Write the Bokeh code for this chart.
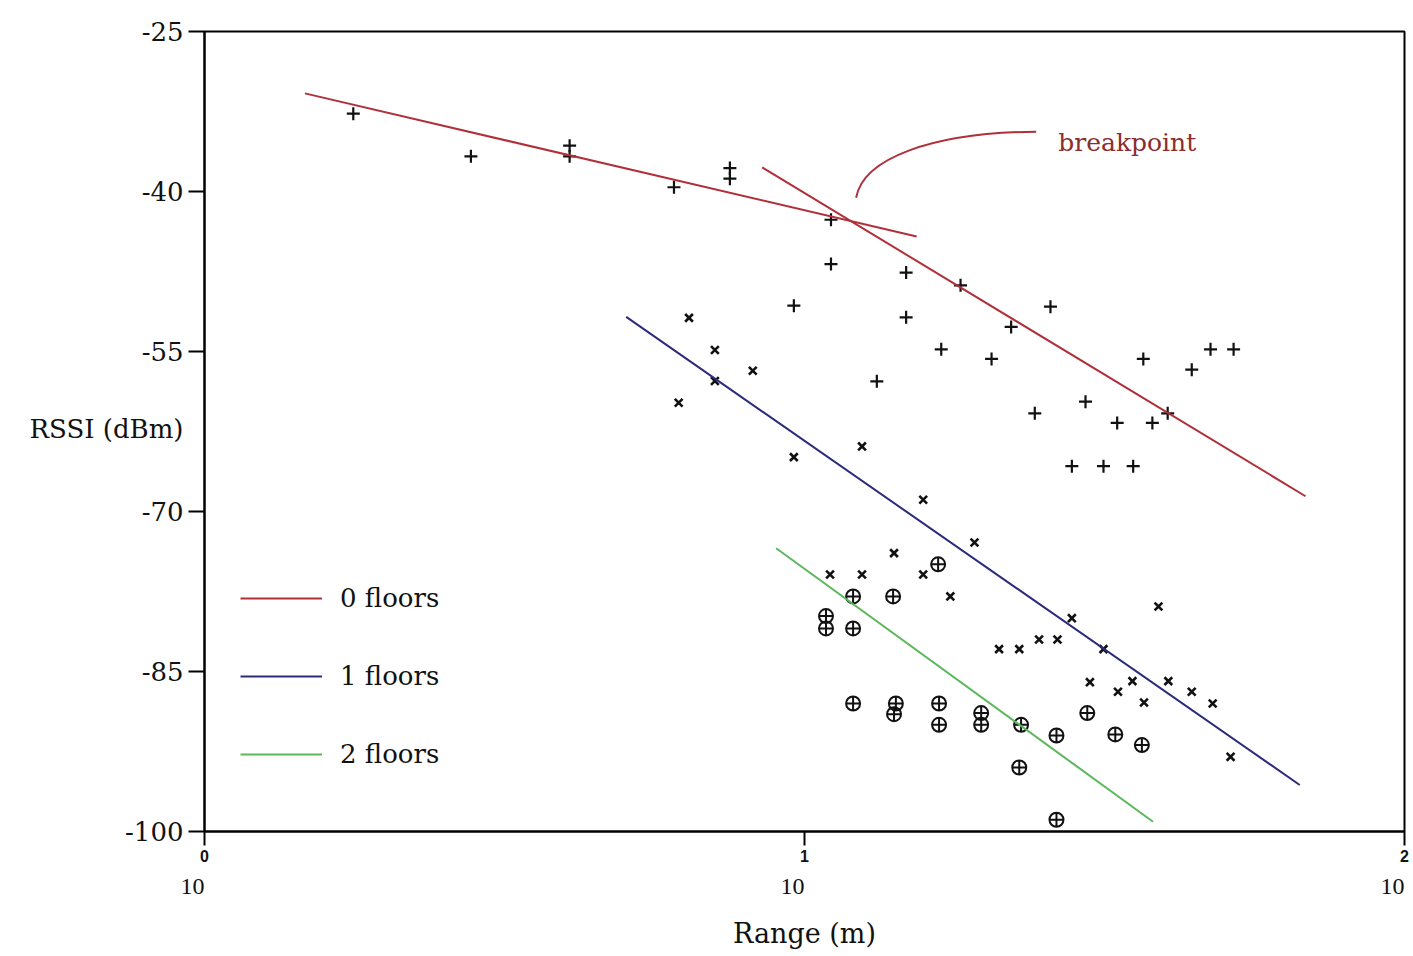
from bokeh.plotting import figure
from bokeh.models import Range1d, FixedTicker, Label, Legend, LegendItem, LinearAxis
from bokeh.embed import file_html
from bokeh.resources import INLINE

# ---------------- data ----------------
# 0 floors  (+)
floor0_range = [1.77, 2.78, 4.06, 4.06, 6.06, 7.51, 7.51, 11.07, 11.07, 14.77,
                14.77, 18.2, 9.6, 13.2, 16.9, 20.5, 22.1, 25.7, 24.2, 29.4,
                27.9, 31.5, 35.3, 33.2, 38.0, 36.7, 40.3, 44.2, 47.5, 51.9]
floor0_rssi = [-32.7, -36.7, -35.7, -36.7, -39.6, -37.8, -38.8, -42.65, -46.8, -47.6,
               -51.8, -48.8, -50.7, -57.8, -54.8, -55.7, -52.7, -50.8, -60.8, -59.7,
               -65.75, -65.75, -65.75, -61.7, -61.7, -55.7, -60.8, -56.7, -54.8, -54.8]

# 1 floor  (x)
floor1_range = [6.42, 7.09, 7.09, 8.2, 6.17, 9.6, 12.47, 15.77, 19.2, 11.03,
                12.47, 14.1, 15.77, 17.5, 38.9, 27.9, 21.1, 22.8, 24.6, 26.4,
                31.5, 29.9, 33.3, 35.2, 36.8, 40.4, 44.2, 47.9, 51.3]
floor1_rssi = [-51.85, -54.86, -57.77, -56.8, -59.8, -64.9, -63.9, -68.9, -72.9, -75.9,
               -75.9, -73.9, -75.9, -77.96, -78.9, -80.0, -82.9, -82.9, -82.0, -82.0,
               -82.9, -86.0, -86.9, -85.9, -87.9, -85.9, -86.9, -88.0, -93.0]

# 2 floors  (circle-cross)
floor2_range = [16.7, 12.05, 14.05, 10.86, 10.86, 12.05, 12.05, 14.2, 14.1, 16.76,
                16.76, 19.7, 19.7, 22.96, 26.3, 22.8, 26.3, 29.6, 32.96, 36.5]
floor2_rssi = [-74.95, -77.96, -77.96, -79.8, -80.96, -80.96, -88.0, -88.0, -89.0, -88.0,
               -90.0, -88.9, -90.0, -90.0, -91.0, -94.0, -98.9, -88.9, -90.9, -91.9]

# fitted lines
fit0a_range = [1.47, 15.38]
fit0a_rssi = [-30.8, -44.22]
fit0b_range = [8.50, 68.4]
fit0b_rssi = [-37.74, -68.57]
fit1_range = [5.045, 66.9]
fit1_rssi = [-51.76, -95.64]
fit2_range = [8.97, 38.1]
fit2_rssi = [-73.45, -99.08]

# breakpoint pointer curve (start, control 1, control 2, end)
curve_range = [12.19, 12.52, 16.26, 24.33]
curve_rssi = [-40.59, -36.92, -34.48, -34.39]

legend_labels = ["0 floors", "1 floors", "2 floors"]
x_ticks = [1, 10, 100]
x_tick_exponents = ["0", "1", "2"]
x_tick_base = "10"
y_ticks = [-100, -85, -70, -55, -40, -25]
y_tick_labels = ["-100", "-85", "-70", "-55", "-40", "-25"]
y_title = "RSSI (dBm)"
y_title_at = -62.25
x_title = "Range (m)"

RED = "#b0303a"
BLUE = "#2b2b7a"
GREEN = "#5cb85c"
BREAK_COLOR = "#8b2e2e"
INK = "#111111"

# ---------------- figure ----------------
p = figure(width=1413, height=956, x_axis_type="log", x_axis_location=None,
           x_range=Range1d(1, 100), y_range=Range1d(-100, -25),
           output_backend="svg", toolbar_location=None, title=None,
           min_border_left=204, min_border_right=9,
           min_border_top=31, min_border_bottom=125)

p.background_fill_color = "white"
p.border_fill_color = "white"
p.grid.visible = False
p.outline_line_color = "black"
p.outline_line_width = 2

# x axis: ticks with the exponents
xt = LinearAxis(ticker=FixedTicker(ticks=x_ticks),
                major_label_overrides={t: e for t, e in zip(x_ticks, x_tick_exponents)},
                major_label_text_font="Liberation Sans", major_label_text_font_size="16px",
                major_label_text_font_style="bold",
                major_label_text_color=INK, major_label_standoff=4,
                major_tick_out=14, major_tick_in=0, major_tick_line_width=2,
                minor_tick_line_color=None, axis_line_width=2)
p.add_layout(xt, "below")

# x axis: the "10" bases (right-aligned at the ticks) and the title
xb = LinearAxis(ticker=FixedTicker(ticks=x_ticks),
                major_label_overrides={t: x_tick_base for t in x_ticks},
                major_label_text_font="Liberation Serif", major_label_text_font_size="24px",
                major_label_text_color=INK, major_label_standoff=22,
                major_label_orientation=0.0001,
                major_tick_out=0, major_tick_in=0, major_tick_line_color=None,
                minor_tick_line_color=None, axis_line_color=None,
                axis_label=x_title, axis_label_text_font="DejaVu Serif",
                axis_label_text_font_size="27px", axis_label_text_font_style="normal",
                axis_label_text_color=INK, axis_label_standoff=13)
p.add_layout(xb, "below")

# y axis: tick marks only
yt = p.yaxis[0]
yt.ticker = FixedTicker(ticks=y_ticks)
yt.major_label_overrides = {t: "" for t in y_ticks}
yt.major_label_standoff = 0
yt.major_tick_out = 16
yt.major_tick_in = 0
yt.major_tick_line_width = 2
yt.minor_tick_line_color = None
yt.axis_line_width = 2

# y axis: tick labels and the horizontal title
y_label_pos = y_ticks + [y_title_at]
y_label_txt = y_tick_labels + [y_title]
yl = LinearAxis(ticker=FixedTicker(ticks=y_label_pos),
                major_label_overrides={t: s for t, s in zip(y_label_pos, y_label_txt)},
                major_label_text_font="DejaVu Serif", major_label_text_font_size="26px",
                major_label_text_color=INK, major_label_standoff=5,
                major_tick_out=0, major_tick_in=0, major_tick_line_color=None,
                minor_tick_line_color=None, axis_line_color=None)
p.add_layout(yl, "left")

# points
p.scatter(floor0_range, floor0_rssi, marker="cross", size=13, line_width=2.2, line_color=INK)
p.scatter(floor1_range, floor1_rssi, marker="x", size=11, line_width=2.6, line_color=INK)
p.scatter(floor2_range, floor2_rssi, marker="circle_cross", size=14, line_width=2,
          line_color=INK, fill_color=None)

# fitted lines
r0a = p.line(fit0a_range, fit0a_rssi, line_color=RED, line_width=2)
r0b = p.line(fit0b_range, fit0b_rssi, line_color=RED, line_width=2)
r1 = p.line(fit1_range, fit1_rssi, line_color=BLUE, line_width=2)
r2 = p.line(fit2_range, fit2_rssi, line_color=GREEN, line_width=2)

# breakpoint pointer
p.bezier(x0=[curve_range[0]], y0=[curve_rssi[0]],
         x1=[curve_range[3]], y1=[curve_rssi[3]],
         cx0=[curve_range[1]], cy0=[curve_rssi[1]],
         cx1=[curve_range[2]], cy1=[curve_rssi[2]],
         line_color=RED, line_width=2)
p.add_layout(Label(x=26.48, y=-35.42, text="breakpoint", text_font="DejaVu Serif",
                   text_font_size="25px", text_color=BREAK_COLOR,
                   text_align="left", text_baseline="alphabetic"))

# legend
legend = Legend(items=[LegendItem(label=legend_labels[0], renderers=[r0a]),
                       LegendItem(label=legend_labels[1], renderers=[r1]),
                       LegendItem(label=legend_labels[2], renderers=[r2])],
                location=(36, 62), orientation="vertical",
                glyph_width=82, glyph_height=30, label_height=30,
                label_standoff=18, spacing=48, padding=0, margin=0,
                border_line_color=None, background_fill_alpha=0,
                label_text_font="DejaVu Serif", label_text_font_size="26px",
                label_text_color=INK)
p.add_layout(legend)

open("out.html", "w").write(file_html(p, INLINE))
